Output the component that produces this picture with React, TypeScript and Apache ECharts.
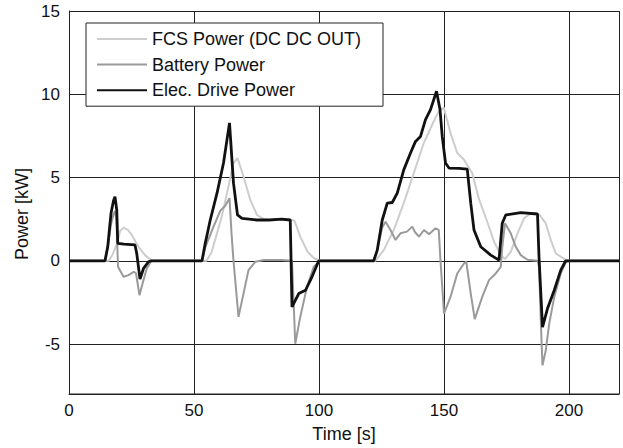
import React, { useEffect, useRef } from "react";
import * as echarts from "echarts";

const seriesNames = ["FCS Power (DC DC OUT)", "Battery Power", "Elec. Drive Power"];
const seriesColors = ["#cdcdcd", "#9a9a9a", "#111111"];
const seriesWidths = [2, 2, 2.8];

// [time s, power kW]
const fcsPower: [number, number][] = [
  [0, 0], [16.0, 0], [17.5, 0.4], [19.1, 1.0], [20.5, 1.8], [21.8, 1.99], [23.5, 1.85], [25.1, 1.55],
  [27.8, 0.84], [30.4, 0.34], [33, 0.02], [35, 0], [55, 0], [57, 0.5], [59.2, 1.65], [61, 2.6],
  [63.2, 4.06], [65.8, 5.87], [67.4, 6.17], [69.8, 5.06], [72.5, 3.66], [75.2, 2.75], [77.9, 2.5],
  [80, 2.45], [85, 2.5], [89.2, 2.45], [90.2, 2.4], [92.5, 1.45], [95.4, 0.54], [98.0, 0.15],
  [100.5, 0], [122.6, 0], [125.9, 0.64], [129.9, 1.85], [133.9, 3.46], [137.9, 5.26], [141.9, 7.07],
  [145.9, 8.38], [148.0, 9.0], [149.9, 9.2], [152.6, 7.67], [155.3, 6.47], [158.0, 6.07],
  [161.3, 5.26], [164.0, 3.7], [167.4, 2.3], [170.0, 1.15], [172.7, 0.34], [174.4, 0.1],
  [176.7, 0.54], [179.4, 1.65], [182.0, 2.55], [184.7, 2.85], [188.0, 2.8], [190.7, 2.25],
  [192.7, 1.25], [194.7, 0.44], [198.7, 0.05], [200, 0], [220, 0],
];

const batteryPower: [number, number][] = [
  [0, 0], [14.4, 0], [15.5, 0.8], [16.8, 2.2], [17.8, 2.8], [18.4, 3.0], [19.0, 2.4], [19.6, -0.36],
  [21.8, -0.96], [23.8, -0.86], [25.9, -0.66], [26.8, -0.75], [28.2, -2.07], [29.8, -1.16],
  [31.1, -0.46], [33, 0], [53.2, 0], [54.5, 0.8], [57.8, 2.05], [60.5, 3.0], [62.5, 3.3],
  [64.2, 3.76], [65.0, 1.65], [65.8, 0], [67.8, -3.37], [69.8, -1.97], [71.8, -0.56], [74.5, -0.06],
  [78, 0.05], [85, 0.05], [89.2, 0], [90.5, -4.98], [92.5, -3.37], [95.2, -1.57], [97.9, -0.36],
  [100.5, 0], [121.9, 0], [123.3, 0.64], [125.3, 2.0], [126.6, 2.35], [128.6, 1.85], [130.6, 1.25],
  [132.6, 1.65], [135.2, 1.75], [137.3, 2.05], [138.5, 1.7], [140.0, 1.45], [142.0, 1.85],
  [144.0, 1.6], [146.6, 1.95], [147.9, 1.85], [148.6, 0], [150.0, -3.17], [152.6, -2.17],
  [155.3, -0.76], [158.0, -0.16], [158.9, -0.05], [160.7, -1.97], [162.3, -3.5], [165.3, -2.17],
  [168.0, -1.16], [170.7, -0.76], [172.7, -0.36], [173.3, 0.8], [174.4, 2.25], [176.7, 1.65],
  [178.7, 0.84], [180.7, 0.34], [183.4, 0.06], [187.5, 0], [188.0, -0.36], [189.0, -4.78],
  [189.4, -6.28], [190.7, -5.38], [192.1, -3.77], [194.1, -2.17], [196.7, -0.76], [198.7, -0.1],
  [200, 0], [220, 0],
];

const elecDrivePower: [number, number][] = [
  [0, 0], [14.4, 0], [15.5, 0.85], [16.8, 2.85], [17.8, 3.6], [18.4, 3.85], [19.1, 3.05], [19.5, 1.05],
  [22, 1.0], [26.4, 0.95], [27.1, 0.44], [28.4, -1.1], [29.8, -0.46], [31.8, -0.06], [33, 0],
  [53.2, 0], [54.5, 1.05], [56.5, 2.45], [59.2, 4.06], [61.8, 5.87], [64.2, 8.28], [65.8, 4.66],
  [67.4, 2.75], [69.2, 2.55], [75, 2.45], [80, 2.45], [85, 2.5], [88.5, 2.45], [89.2, -2.77],
  [91.9, -1.97], [94.6, -1.77], [97.2, -0.96], [99.9, 0], [121.9, 0], [123.3, 0.64], [125.3, 2.45],
  [127.3, 3.46], [129.3, 3.5], [131.3, 4.06], [133.9, 5.46], [136.6, 6.47], [138.6, 7.17],
  [140.6, 7.47], [142.6, 8.48], [144.6, 9.08], [147.0, 10.18], [148.4, 9.08], [149.3, 7.47],
  [150.6, 5.87], [152.0, 5.57], [156, 5.55], [159.3, 5.5], [160.7, 3.46], [162.0, 1.85],
  [164.7, 0.84], [168.7, 0.34], [172.0, 0.04], [173.3, 2.25], [174.7, 2.75], [180.7, 2.89],
  [187.4, 2.81], [188.0, 0.24], [189.4, -3.98], [191.4, -2.87], [194.1, -1.77], [196.7, -0.56],
  [198.7, 0], [220, 0],
];

const xTitle = "Time [s]";
const yTitle = "Power [kW]";

const FONT = "'Liberation Sans', Arial, sans-serif";

export default function App() {
  const ref = useRef<HTMLDivElement>(null);

  useEffect(() => {
    if (!ref.current) return;
    const chart = echarts.init(ref.current, null, { renderer: "svg" });
    const datasets = [fcsPower, batteryPower, elecDrivePower];
    chart.setOption({
      animation: false,
      backgroundColor: "#ffffff",
      textStyle: { fontFamily: FONT },
      grid: { left: 69, top: 11, right: 4, bottom: 54, show: false },
      legend: {
        orient: "vertical",
        left: 86,
        top: 23,
        data: seriesNames,
        itemWidth: 50,
        itemHeight: 14,
        itemGap: 7.6,
        padding: [7, 22, 7, 10],
        backgroundColor: "#ffffff",
        borderColor: "#222",
        borderWidth: 1,
        borderRadius: 0,
        itemStyle: { opacity: 0 },
        textStyle: { fontSize: 18, color: "#111", fontFamily: FONT },
      },
      xAxis: {
        type: "value",
        min: 0,
        max: 220,
        interval: 50,
        axisLine: { show: true, onZero: false, lineStyle: { color: "#222", width: 1 } },
        axisTick: { show: false },
        axisLabel: { fontSize: 17, color: "#111", margin: 8, showMaxLabel: false, fontFamily: FONT },
        splitLine: { show: true, lineStyle: { color: "#222", width: 1 } },
        name: xTitle,
        nameLocation: "middle",
        nameGap: 31,
        nameTextStyle: { fontSize: 18, color: "#111", fontFamily: FONT },
      },
      yAxis: {
        type: "value",
        min: -8,
        max: 15,
        splitNumber: 5,
        minInterval: 5,
        maxInterval: 5,
        axisLine: { show: true, lineStyle: { color: "#222", width: 1 } },
        axisTick: { show: false },
        axisLabel: {
          fontSize: 17,
          color: "#111",
          margin: 9,
          showMinLabel: false,
          fontFamily: FONT,
          formatter: (v: number) => (v % 5 === 0 ? String(v) : ""),
        },
        splitLine: { show: true, lineStyle: { color: "#222", width: 1 } },
      },
      graphic: [
        {
          type: "rect",
          shape: { x: 69.5, y: 11.5, width: 550, height: 382.5 },
          style: { fill: "none", stroke: "#222", lineWidth: 1 },
          silent: true,
          z: 100,
        },
        {
          type: "text",
          x: 22,
          y: 214,
          rotation: Math.PI / 2,
          style: {
            text: yTitle,
            fontSize: 18,
            fill: "#111",
            fontFamily: FONT,
            align: "center",
            verticalAlign: "middle",
          },
        },
      ],
      series: seriesNames.map((name, i) => ({
        name,
        type: "line",
        data: datasets[i],
        symbol: "none",
        showSymbol: false,
        smooth: false,
        lineStyle: { color: seriesColors[i], width: seriesWidths[i] },
        itemStyle: { color: seriesColors[i] },
        z: 2 + i,
      })),
    });
    return () => chart.dispose();
  }, []);

  return (
    <div
      ref={ref}
      style={{ position: "absolute", left: 0, top: 0, width: 623, height: 448 }}
    />
  );
}
